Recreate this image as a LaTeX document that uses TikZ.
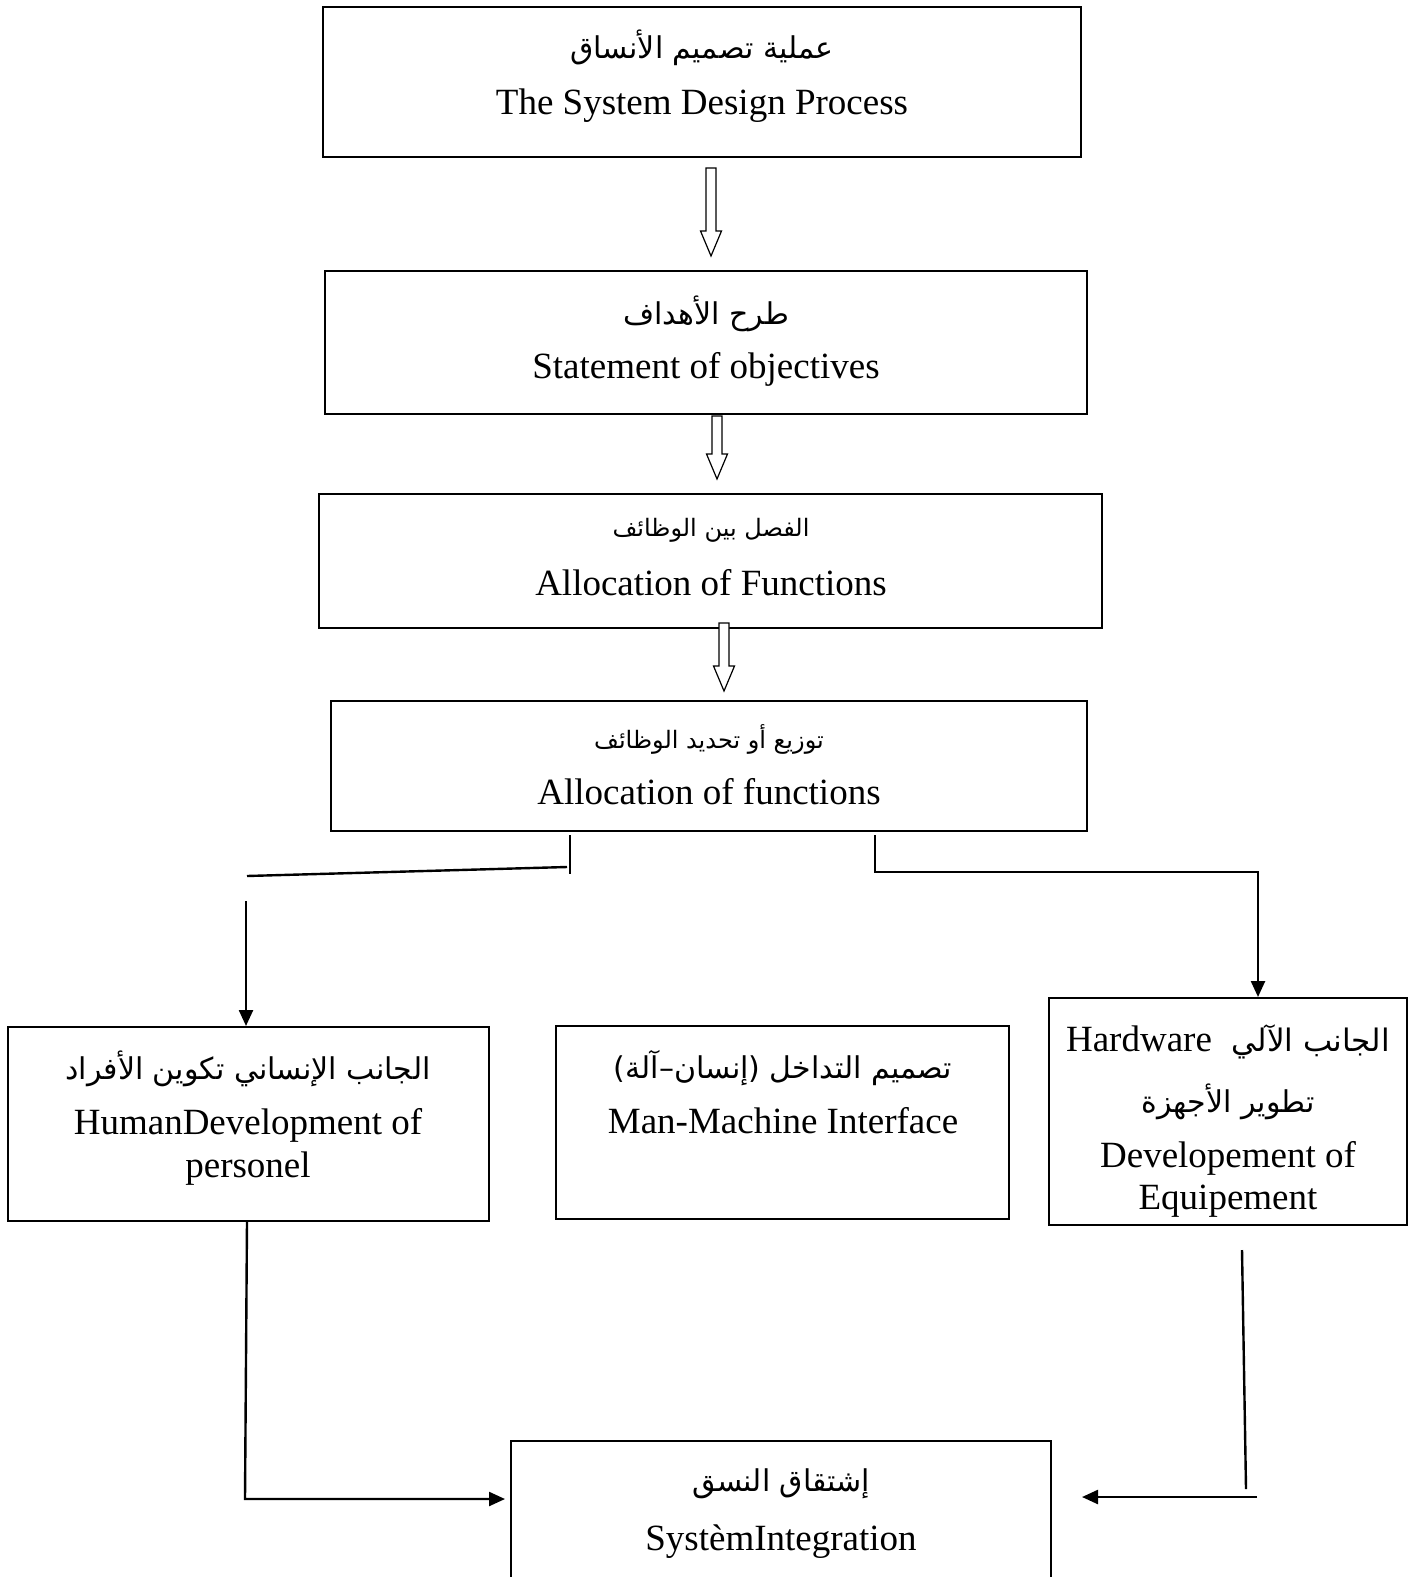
\documentclass[tikz,border=0pt]{standalone}
\usepackage{fontspec}
\setmainfont{Liberation Serif}
\newfontfamily\arabicfont[Script=Arabic]{DejaVu Sans}
\TeXXeTstate=1
\usetikzlibrary{arrows.meta,calc}
\newcommand\hollowarrow[2]{%
  \draw[line width=0.6pt,fill=white]
    ($(#1)+(-5,0)$) -- ($(#1)+(5,0)$) -- ($(#2)+(5,-25)$) -- ($(#2)+(10.5,-25)$)
    -- (#2) -- ($(#2)+(-10.5,-25)$) -- ($(#2)+(-5,-25)$) -- cycle;}
\begin{document}
\begin{tikzpicture}[x=0.5pt,y=-0.5pt,
  box/.style={draw,line width=1pt,inner sep=0pt},
  en/.style={font=\fontsize{18.5}{22}\selectfont,inner sep=0pt},
  arA/.style={font=\arabicfont\fontsize{15}{18}\selectfont,inner sep=0pt},
  arS/.style={font=\arabicfont\fontsize{12}{15}\selectfont,inner sep=0pt},
  arB/.style={font=\arabicfont\fontsize{15}{18}\selectfont,inner sep=0pt},
  conn/.style={line width=1.2pt},
  tip/.style={-{Triangle[length=8pt,width=7pt]}}]
\useasboundingbox (0,0) rectangle (1415,1577);
% boxes
\node[box,minimum width=379pt,minimum height=75pt] (b1) at (702,82) {};
\node[box,minimum width=381pt,minimum height=71.5pt] (b2) at (706,342.5) {};
\node[box,minimum width=391.5pt,minimum height=67pt] (b3) at (710.5,561) {};
\node[box,minimum width=378pt,minimum height=65pt] (b4) at (709,766) {};
\node[box,minimum width=240.5pt,minimum height=97pt] (b5) at (248.5,1124) {};
\node[box,minimum width=226.5pt,minimum height=96.5pt] (b6) at (782.5,1122.5) {};
\node[box,minimum width=179pt,minimum height=113.5pt] (b7) at (1228,1111.5) {};
\node[box,minimum width=270pt,minimum height=79.5pt] (b8) at (781,1520.5) {};
% texts
\node[arA] (t1a) at (702,48) {\beginR عملية تصميم الأنساق\endR};
\node[en] (t1b) at (702,106) {The System Design Process};
\node[arA] (t2a) at (706,314) {\beginR طرح الأهداف\endR};
\node[en] (t2b) at (706,369) {Statement of objectives};
\node[arS] (t3a) at (711,530) {\beginR الفصل بين الوظائف\endR};
\node[en] (t3b) at (711,583) {Allocation of Functions};
\node[arS] (t4a) at (709,739) {\beginR توزيع أو تحديد الوظائف\endR};
\node[en] (t4b) at (709,792) {Allocation of functions};
\node[arB] (t5a) at (248,1069) {\beginR الجانب الإنساني تكوين الأفراد\endR};
\node[en] (t5b) at (248,1125) {HumanDevelopment of};
\node[en] (t5c) at (248,1169) {personel};
\node[arB] (t6a) at (783,1068) {\beginR تصميم التداخل (إنسان–آلة)\endR};
\node[en] (t6b) at (783,1121) {Man-Machine Interface};
\node[inner sep=0pt] (t7a) at (1228,1042) {{\fontsize{18.5}{22}\selectfont Hardware}\quad{\arabicfont\fontsize{15.5}{19}\selectfont\beginR الجانب الآلي\endR}};
\node[arB] (t7b) at (1228,1102) {\beginR تطوير الأجهزة\endR};
\node[en] (t7c) at (1228,1158) {Developement of};
\node[en] (t7d) at (1228,1201) {Equipement};
\node[arB] (t8a) at (781,1484) {\beginR إشتقاق النسق\endR};
\node[en] (t8b) at (781,1542) {SystèmIntegration};
% hollow arrows
\coordinate (h1s) at (711,168); \coordinate (h1e) at (711,256);
\coordinate (h2s) at (717,416); \coordinate (h2e) at (717,479);
\coordinate (h3s) at (724,623); \coordinate (h3e) at (724,691);
\hollowarrow{h1s}{h1e}
\hollowarrow{h2s}{h2e}
\hollowarrow{h3s}{h3e}
% left branch
\coordinate (l1) at (570,835); \coordinate (l2) at (570,874);
\coordinate (l3) at (567,867); \coordinate (l4) at (247,876);
\coordinate (l5) at (246,901);
\draw[conn] (l1) -- (l2);
\draw[conn] (l3) -- (l4);
\draw[conn,tip] (l5) -- (l5 |- b5.north);
% right branch
\coordinate (r1) at (875,835); \coordinate (r2) at (875,872);
\coordinate (r3) at (1258,872);
\draw[conn,tip] (r1) -- (r2) -- (r3) -- (r3 |- b7.north);
% bottom left
\coordinate (bl0) at (247,1221);
\coordinate (bl1) at (245,1499); \coordinate (bl2) at (505,1499);
\draw[conn,tip] (bl0) -- (bl1) -- (bl2);
% bottom right
\coordinate (br1) at (1242,1250); \coordinate (br2) at (1246,1489);
\coordinate (br3) at (1257,1497); \coordinate (br4) at (1082,1497);
\draw[conn] (br1) -- (br2);
\draw[conn,tip] (br3) -- (br4);
\end{tikzpicture}
\end{document}
